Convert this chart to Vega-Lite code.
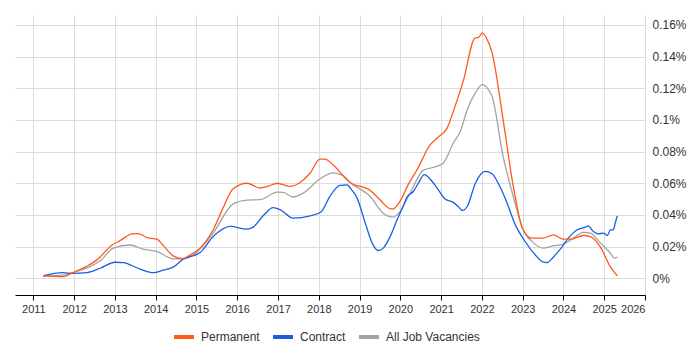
{
  "$schema": "https://vega.github.io/schema/vega-lite/v6.json",
  "width": 630,
  "height": 280,
  "padding": {"left": 15, "top": 15, "right": 55, "bottom": 55},
  "autosize": {"type": "none"},
  "background": "white",
  "config": {
    "view": {"stroke": null},
    "font": "Liberation Sans"
  },
  "datasets": {
    "series": [
      {"year": 2011.24, "series": "All Job Vacancies", "value": 0.0015},
      {"year": 2011.73, "series": "All Job Vacancies", "value": 0.002},
      {"year": 2012.02, "series": "All Job Vacancies", "value": 0.004},
      {"year": 2012.39, "series": "All Job Vacancies", "value": 0.0073},
      {"year": 2012.64, "series": "All Job Vacancies", "value": 0.011},
      {"year": 2012.96, "series": "All Job Vacancies", "value": 0.019},
      {"year": 2013.37, "series": "All Job Vacancies", "value": 0.021},
      {"year": 2013.69, "series": "All Job Vacancies", "value": 0.0184},
      {"year": 2014.04, "series": "All Job Vacancies", "value": 0.0168},
      {"year": 2014.43, "series": "All Job Vacancies", "value": 0.0122},
      {"year": 2014.67, "series": "All Job Vacancies", "value": 0.0122},
      {"year": 2015.02, "series": "All Job Vacancies", "value": 0.0168},
      {"year": 2015.41, "series": "All Job Vacancies", "value": 0.0285},
      {"year": 2015.90, "series": "All Job Vacancies", "value": 0.047},
      {"year": 2016.24, "series": "All Job Vacancies", "value": 0.0494},
      {"year": 2016.56, "series": "All Job Vacancies", "value": 0.0496},
      {"year": 2016.98, "series": "All Job Vacancies", "value": 0.0544},
      {"year": 2017.13, "series": "All Job Vacancies", "value": 0.0542},
      {"year": 2017.37, "series": "All Job Vacancies", "value": 0.0513},
      {"year": 2017.62, "series": "All Job Vacancies", "value": 0.0538},
      {"year": 2018.03, "series": "All Job Vacancies", "value": 0.0628},
      {"year": 2018.35, "series": "All Job Vacancies", "value": 0.0666},
      {"year": 2018.60, "series": "All Job Vacancies", "value": 0.0648},
      {"year": 2018.77, "series": "All Job Vacancies", "value": 0.0605},
      {"year": 2019.26, "series": "All Job Vacancies", "value": 0.0516},
      {"year": 2019.58, "series": "All Job Vacancies", "value": 0.0411},
      {"year": 2019.82, "series": "All Job Vacancies", "value": 0.0386},
      {"year": 2019.99, "series": "All Job Vacancies", "value": 0.0421},
      {"year": 2020.24, "series": "All Job Vacancies", "value": 0.0538},
      {"year": 2020.56, "series": "All Job Vacancies", "value": 0.0681},
      {"year": 2020.81, "series": "All Job Vacancies", "value": 0.070},
      {"year": 2021.05, "series": "All Job Vacancies", "value": 0.0727},
      {"year": 2021.30, "series": "All Job Vacancies", "value": 0.0854},
      {"year": 2021.47, "series": "All Job Vacancies", "value": 0.0928},
      {"year": 2021.64, "series": "All Job Vacancies", "value": 0.1065},
      {"year": 2021.84, "series": "All Job Vacancies", "value": 0.1171},
      {"year": 2022.01, "series": "All Job Vacancies", "value": 0.1223},
      {"year": 2022.16, "series": "All Job Vacancies", "value": 0.1192},
      {"year": 2022.25, "series": "All Job Vacancies", "value": 0.115},
      {"year": 2022.52, "series": "All Job Vacancies", "value": 0.077},
      {"year": 2022.77, "series": "All Job Vacancies", "value": 0.0516},
      {"year": 2023.01, "series": "All Job Vacancies", "value": 0.0306},
      {"year": 2023.26, "series": "All Job Vacancies", "value": 0.0225},
      {"year": 2023.50, "series": "All Job Vacancies", "value": 0.019},
      {"year": 2023.75, "series": "All Job Vacancies", "value": 0.0204},
      {"year": 2023.99, "series": "All Job Vacancies", "value": 0.0215},
      {"year": 2024.24, "series": "All Job Vacancies", "value": 0.0253},
      {"year": 2024.49, "series": "All Job Vacancies", "value": 0.029},
      {"year": 2024.66, "series": "All Job Vacancies", "value": 0.0285},
      {"year": 2024.90, "series": "All Job Vacancies", "value": 0.0225},
      {"year": 2025.15, "series": "All Job Vacancies", "value": 0.0158},
      {"year": 2025.25, "series": "All Job Vacancies", "value": 0.0127},
      {"year": 2025.32, "series": "All Job Vacancies", "value": 0.0133},

      {"year": 2011.24, "series": "Contract", "value": 0.0015},
      {"year": 2011.73, "series": "Contract", "value": 0.0035},
      {"year": 2011.97, "series": "Contract", "value": 0.003},
      {"year": 2012.32, "series": "Contract", "value": 0.0035},
      {"year": 2012.64, "series": "Contract", "value": 0.0063},
      {"year": 2013.00, "series": "Contract", "value": 0.0101},
      {"year": 2013.20, "series": "Contract", "value": 0.0099},
      {"year": 2013.62, "series": "Contract", "value": 0.0057},
      {"year": 2013.94, "series": "Contract", "value": 0.0035},
      {"year": 2014.19, "series": "Contract", "value": 0.0051},
      {"year": 2014.43, "series": "Contract", "value": 0.007},
      {"year": 2014.67, "series": "Contract", "value": 0.012},
      {"year": 2015.09, "series": "Contract", "value": 0.0162},
      {"year": 2015.41, "series": "Contract", "value": 0.0263},
      {"year": 2015.83, "series": "Contract", "value": 0.0327},
      {"year": 2016.24, "series": "Contract", "value": 0.031},
      {"year": 2016.39, "series": "Contract", "value": 0.0323},
      {"year": 2016.64, "series": "Contract", "value": 0.0396},
      {"year": 2016.88, "series": "Contract", "value": 0.0446},
      {"year": 2017.06, "series": "Contract", "value": 0.0432},
      {"year": 2017.37, "series": "Contract", "value": 0.038},
      {"year": 2017.79, "series": "Contract", "value": 0.0394},
      {"year": 2018.06, "series": "Contract", "value": 0.042},
      {"year": 2018.27, "series": "Contract", "value": 0.0516},
      {"year": 2018.52, "series": "Contract", "value": 0.0586},
      {"year": 2018.70, "series": "Contract", "value": 0.059},
      {"year": 2018.77, "series": "Contract", "value": 0.057},
      {"year": 2018.94, "series": "Contract", "value": 0.0506},
      {"year": 2019.14, "series": "Contract", "value": 0.0348},
      {"year": 2019.31, "series": "Contract", "value": 0.0222},
      {"year": 2019.46, "series": "Contract", "value": 0.0175},
      {"year": 2019.58, "series": "Contract", "value": 0.019},
      {"year": 2019.75, "series": "Contract", "value": 0.0263},
      {"year": 2019.92, "series": "Contract", "value": 0.0369},
      {"year": 2020.05, "series": "Contract", "value": 0.0443},
      {"year": 2020.17, "series": "Contract", "value": 0.0516},
      {"year": 2020.32, "series": "Contract", "value": 0.0548},
      {"year": 2020.44, "series": "Contract", "value": 0.060},
      {"year": 2020.59, "series": "Contract", "value": 0.0654},
      {"year": 2020.78, "series": "Contract", "value": 0.0611},
      {"year": 2020.93, "series": "Contract", "value": 0.0559},
      {"year": 2021.10, "series": "Contract", "value": 0.050},
      {"year": 2021.30, "series": "Contract", "value": 0.0479},
      {"year": 2021.42, "series": "Contract", "value": 0.0453},
      {"year": 2021.52, "series": "Contract", "value": 0.0428},
      {"year": 2021.64, "series": "Contract", "value": 0.0453},
      {"year": 2021.84, "series": "Contract", "value": 0.060},
      {"year": 2022.08, "series": "Contract", "value": 0.0675},
      {"year": 2022.25, "series": "Contract", "value": 0.066},
      {"year": 2022.40, "series": "Contract", "value": 0.060},
      {"year": 2022.57, "series": "Contract", "value": 0.0506},
      {"year": 2022.82, "series": "Contract", "value": 0.0337},
      {"year": 2023.06, "series": "Contract", "value": 0.0232},
      {"year": 2023.31, "series": "Contract", "value": 0.0147},
      {"year": 2023.48, "series": "Contract", "value": 0.0105},
      {"year": 2023.60, "series": "Contract", "value": 0.0099},
      {"year": 2023.75, "series": "Contract", "value": 0.0133},
      {"year": 2023.97, "series": "Contract", "value": 0.020},
      {"year": 2024.12, "series": "Contract", "value": 0.0253},
      {"year": 2024.34, "series": "Contract", "value": 0.0306},
      {"year": 2024.54, "series": "Contract", "value": 0.0323},
      {"year": 2024.61, "series": "Contract", "value": 0.0331},
      {"year": 2024.71, "series": "Contract", "value": 0.0301},
      {"year": 2024.85, "series": "Contract", "value": 0.028},
      {"year": 2024.98, "series": "Contract", "value": 0.0285},
      {"year": 2025.08, "series": "Contract", "value": 0.027},
      {"year": 2025.15, "series": "Contract", "value": 0.0306},
      {"year": 2025.22, "series": "Contract", "value": 0.0306},
      {"year": 2025.27, "series": "Contract", "value": 0.0348},
      {"year": 2025.32, "series": "Contract", "value": 0.0394},

      {"year": 2011.24, "series": "Permanent", "value": 0.0015},
      {"year": 2011.73, "series": "Permanent", "value": 0.001},
      {"year": 2011.97, "series": "Permanent", "value": 0.0035},
      {"year": 2012.34, "series": "Permanent", "value": 0.008},
      {"year": 2012.56, "series": "Permanent", "value": 0.0116},
      {"year": 2012.93, "series": "Permanent", "value": 0.021},
      {"year": 2013.13, "series": "Permanent", "value": 0.0238},
      {"year": 2013.42, "series": "Permanent", "value": 0.028},
      {"year": 2013.57, "series": "Permanent", "value": 0.0282},
      {"year": 2013.79, "series": "Permanent", "value": 0.0257},
      {"year": 2014.04, "series": "Permanent", "value": 0.0245},
      {"year": 2014.19, "series": "Permanent", "value": 0.0206},
      {"year": 2014.43, "series": "Permanent", "value": 0.0141},
      {"year": 2014.65, "series": "Permanent", "value": 0.0124},
      {"year": 2014.84, "series": "Permanent", "value": 0.0146},
      {"year": 2015.09, "series": "Permanent", "value": 0.019},
      {"year": 2015.41, "series": "Permanent", "value": 0.0306},
      {"year": 2015.65, "series": "Permanent", "value": 0.0443},
      {"year": 2015.90, "series": "Permanent", "value": 0.0565},
      {"year": 2016.24, "series": "Permanent", "value": 0.060},
      {"year": 2016.56, "series": "Permanent", "value": 0.057},
      {"year": 2016.74, "series": "Permanent", "value": 0.058},
      {"year": 2016.98, "series": "Permanent", "value": 0.060},
      {"year": 2017.30, "series": "Permanent", "value": 0.058},
      {"year": 2017.54, "series": "Permanent", "value": 0.0605},
      {"year": 2017.79, "series": "Permanent", "value": 0.0665},
      {"year": 2018.03, "series": "Permanent", "value": 0.0753},
      {"year": 2018.15, "series": "Permanent", "value": 0.0753},
      {"year": 2018.35, "series": "Permanent", "value": 0.0717},
      {"year": 2018.70, "series": "Permanent", "value": 0.062},
      {"year": 2018.77, "series": "Permanent", "value": 0.0605},
      {"year": 2019.26, "series": "Permanent", "value": 0.0555},
      {"year": 2019.50, "series": "Permanent", "value": 0.0496},
      {"year": 2019.75, "series": "Permanent", "value": 0.0439},
      {"year": 2019.82, "series": "Permanent", "value": 0.0437},
      {"year": 2019.99, "series": "Permanent", "value": 0.0485},
      {"year": 2020.19, "series": "Permanent", "value": 0.059},
      {"year": 2020.41, "series": "Permanent", "value": 0.0685},
      {"year": 2020.73, "series": "Permanent", "value": 0.0843},
      {"year": 2020.93, "series": "Permanent", "value": 0.0892},
      {"year": 2021.15, "series": "Permanent", "value": 0.095},
      {"year": 2021.30, "series": "Permanent", "value": 0.1054},
      {"year": 2021.54, "series": "Permanent", "value": 0.1244},
      {"year": 2021.84, "series": "Permanent", "value": 0.1519},
      {"year": 2021.91, "series": "Permanent", "value": 0.152},
      {"year": 2022.01, "series": "Permanent", "value": 0.155},
      {"year": 2022.13, "series": "Permanent", "value": 0.1508},
      {"year": 2022.25, "series": "Permanent", "value": 0.1424},
      {"year": 2022.52, "series": "Permanent", "value": 0.1002},
      {"year": 2022.77, "series": "Permanent", "value": 0.058},
      {"year": 2023.01, "series": "Permanent", "value": 0.0306},
      {"year": 2023.23, "series": "Permanent", "value": 0.0253},
      {"year": 2023.50, "series": "Permanent", "value": 0.0253},
      {"year": 2023.75, "series": "Permanent", "value": 0.0274},
      {"year": 2023.99, "series": "Permanent", "value": 0.0247},
      {"year": 2024.17, "series": "Permanent", "value": 0.0247},
      {"year": 2024.49, "series": "Permanent", "value": 0.027},
      {"year": 2024.66, "series": "Permanent", "value": 0.0263},
      {"year": 2024.90, "series": "Permanent", "value": 0.020},
      {"year": 2025.15, "series": "Permanent", "value": 0.0073},
      {"year": 2025.32, "series": "Permanent", "value": 0.0015}
    ]
  },
  "data": {"name": "series"},
  "mark": {"type": "line", "strokeWidth": 1.3, "interpolate": "monotone"},
  "encoding": {
    "x": {
      "field": "year",
      "type": "quantitative",
      "scale": {"domain": [2010.55, 2026.0], "nice": false, "zero": false},
      "axis": {
        "title": null,
        "values": [2011, 2012, 2013, 2014, 2015, 2016, 2017, 2018, 2019, 2020, 2021, 2022, 2023, 2024, 2025, 2026],
        "format": "d",
        "grid": true,
        "gridColor": "#dcdcdc",
        "domainColor": "#000000",
        "tickColor": "#000000",
        "tickSize": 5,
        "labelPadding": 3,
        "labelFontSize": 11,
        "labelColor": "#333333",
        "labelFont": "Liberation Sans"
      }
    },
    "y": {
      "field": "value",
      "type": "quantitative",
      "scale": {"domain": [-0.0106, 0.1663], "nice": false, "zero": false},
      "axis": {
        "title": null,
        "orient": "right",
        "values": [0, 0.02, 0.04, 0.06, 0.08, 0.1, 0.12, 0.14, 0.16],
        "labelExpr": "format(datum.value, '.2~f') + '%'",
        "domain": false,
        "ticks": false,
        "grid": true,
        "gridColor": "#dcdcdc",
        "labelPadding": 7,
        "labelFontSize": 12,
        "labelColor": "#333333",
        "labelFont": "Liberation Sans"
      }
    },
    "color": {
      "field": "series",
      "type": "nominal",
      "scale": {
        "domain": ["Permanent", "Contract", "All Job Vacancies"],
        "range": ["#ff5a1a", "#1a5fe0", "#a3a3a3"]
      },
      "legend": {
        "title": null,
        "orient": "none",
        "direction": "horizontal",
        "legendX": 157,
        "legendY": 310,
        "symbolType": "M-1,0H1",
        "symbolSize": 400,
        "symbolStrokeWidth": 4,
        "labelFontSize": 12,
        "labelColor": "#333333",
        "labelFont": "Liberation Sans",
        "labelOffset": 5,
        "columnPadding": 5,
        "padding": 0
      }
    },
    "order": {"field": "year", "type": "quantitative"}
  }
}
